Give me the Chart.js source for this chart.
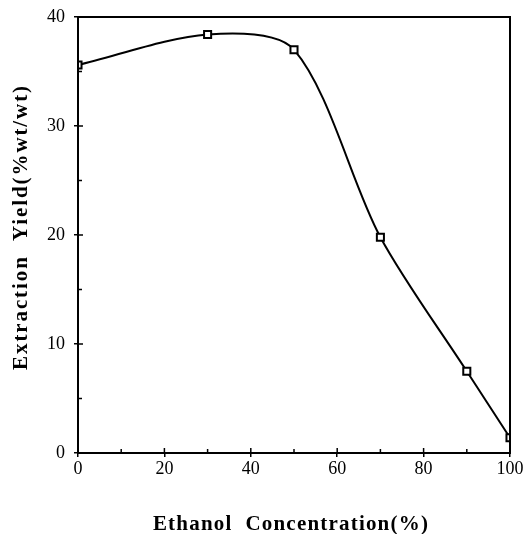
<!DOCTYPE html>
<html>
<head>
<meta charset="utf-8">
<script src="https://cdn.jsdelivr.net/npm/chart.js@4.4.1/dist/chart.umd.min.js"></script>
<style>
  html, body { margin: 0; padding: 0; background: #fff; }
  #wrap { width: 523px; height: 534px; }
</style>
</head>
<body>
<div id="wrap"><canvas id="chart" width="523" height="534"></canvas></div>
<script>
// === Data ===
const ethanolPct = [0, 30, 50, 70, 90, 100];
const yieldPct = [35.6, 38.4, 37.0, 19.8, 7.5, 1.4];
const xTicks = [0, 20, 40, 60, 80, 100];
const yTicks = [0, 10, 20, 30, 40];
const xTitle = 'Ethanol  Concentration(%)';
const yTitle = 'Extraction  Yield(%wt/wt)';

const serif = '"Liberation Serif", "Times New Roman", serif';

// box, tick marks and axis titles drawn like the printed figure
const framePlugin = {
  id: 'frame',
  afterDraw(chart) {
    const { ctx, chartArea: a, scales } = chart;
    ctx.save();
    ctx.strokeStyle = '#000';
    ctx.lineWidth = 2;
    ctx.strokeRect(a.left, a.top, a.right - a.left, a.bottom - a.top);
    ctx.lineWidth = 1.5;
    // x ticks every 10 inward
    for (let v = 10; v < 100; v += 10) {
      const px = scales.x.getPixelForValue(v);
      ctx.beginPath();
      ctx.moveTo(px, a.bottom);
      ctx.lineTo(px, a.bottom - (v % 20 === 0 ? 5 : 4));
      ctx.stroke();
    }
    // y ticks every 5 inward
    for (let v = 5; v < 40; v += 5) {
      const py = scales.y.getPixelForValue(v);
      ctx.beginPath();
      ctx.moveTo(a.left, py);
      ctx.lineTo(a.left + (v % 10 === 0 ? 5 : 4), py);
      ctx.stroke();
    }

    // axis titles
    ctx.fillStyle = '#000';
    ctx.font = 'bold 21px ' + serif;
    ctx.textAlign = 'center';
    ctx.textBaseline = 'alphabetic';
    ctx.letterSpacing = '1.2px';
    ctx.fillText(xTitle, 291, 530);

    ctx.letterSpacing = '1.9px';
    ctx.translate(27, 227);
    ctx.rotate(-Math.PI / 2);
    ctx.fillText(yTitle, 0, 0);
    ctx.restore();
  }
};

const ctx = document.getElementById('chart').getContext('2d');
new Chart(ctx, {
  type: 'line',
  data: {
    datasets: [{
      data: ethanolPct.map((x, i) => ({ x: x, y: yieldPct[i] })),
      borderColor: '#000',
      borderWidth: 2,
      tension: 0.3,
      pointStyle: 'rect',
      pointRadius: 5,
      pointBorderWidth: 2,
      pointBorderColor: '#000',
      pointBackgroundColor: '#fff',
      fill: false
    }]
  },
  options: {
    responsive: false,
    animation: false,
    layout: { padding: { top: 17, right: 0, left: 0, bottom: 0 } },
    plugins: {
      legend: { display: false },
      tooltip: { enabled: false }
    },
    scales: {
      x: {
        type: 'linear',
        min: 0,
        max: 100,
        afterBuildTicks: (s) => { s.ticks = xTicks.map(v => ({ value: v })); },
        afterFit: (s) => { s.height = 81; s.paddingRight = 13; },
        grid: { display: true, drawOnChartArea: false, tickLength: 4, color: '#000', lineWidth: 1.5 },
        border: { display: true, color: '#000', width: 2 },
        ticks: { color: '#000', padding: 1, maxRotation: 0, font: { family: serif, size: 18 } }
      },
      y: {
        type: 'linear',
        min: 0,
        max: 40,
        afterBuildTicks: (s) => { s.ticks = yTicks.map(v => ({ value: v })); },
        afterFit: (s) => { s.width = 78; s.paddingTop = 0; },
        grid: { display: true, drawOnChartArea: false, tickLength: 4, color: '#000', lineWidth: 1.5 },
        border: { display: true, color: '#000', width: 2 },
        ticks: { color: '#000', padding: 9, font: { family: serif, size: 18 } }
      }
    }
  },
  plugins: [framePlugin]
});
</script>
</body>
</html>
